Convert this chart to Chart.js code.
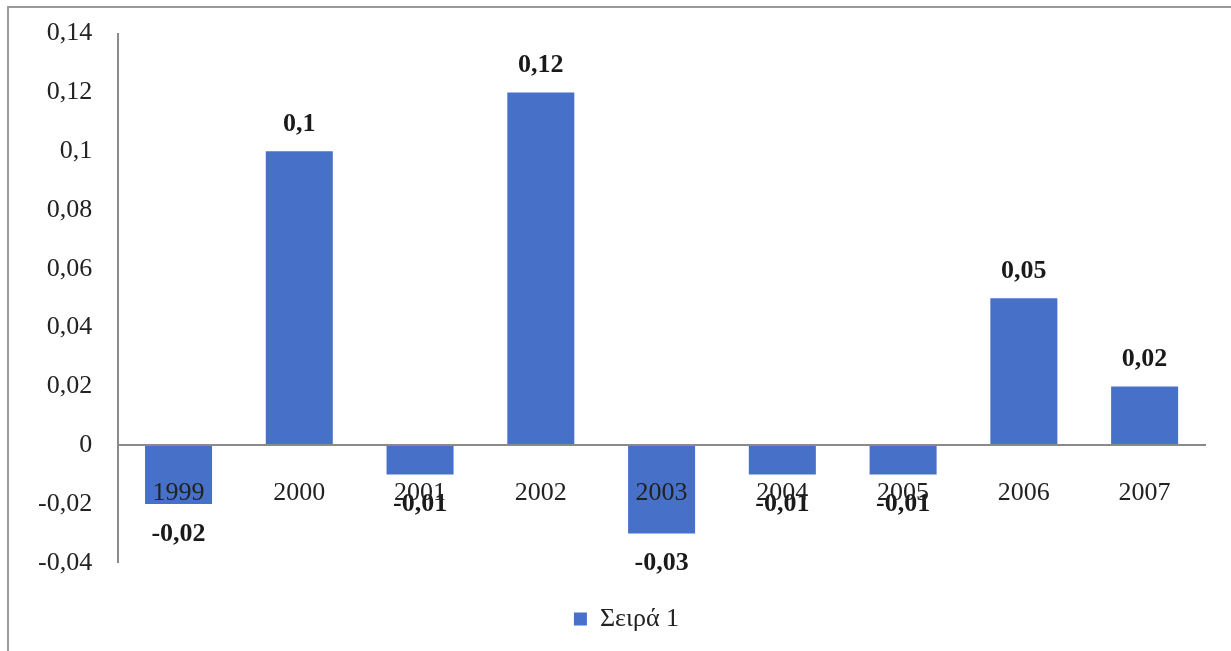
<!DOCTYPE html>
<html lang="el">
  <head>
    <meta charset="UTF-8" />
    <script src="https://cdn.jsdelivr.net/npm/chart.js@4.4.0/dist/chart.umd.min.js"></script>
    <title>Σειρά 1</title>
    <style>
      body {
        margin: 0;
        padding: 0;
        background: white;
        overflow: hidden;
      }

      .wrap {
        position: relative;
        width: 1231px;
        height: 651px;
        overflow: hidden;
      }

      .frame {
        position: absolute;
        left: 7px;
        top: 6px;
        width: 1240px;
        height: 660px;
        border: 2px solid #9a9a9a;
      }

      .chart-box {
        position: absolute;
        left: 0;
        top: 0;
        width: 1231px;
        height: 651px;
      }
    </style>
  </head>
  <body>
    <div class="wrap">
      <div class="frame"></div>
      <div class="chart-box">
        <canvas id="chart"></canvas>
      </div>
    </div>
    <script>
      const years = ['1999', '2000', '2001', '2002', '2003', '2004', '2005', '2006', '2007']
      const series1 = [-0.02, 0.1, -0.01, 0.12, -0.03, -0.01, -0.01, 0.05, 0.02]
      const yTickLabels = ['-0,04', '-0,02', '0', '0,02', '0,04', '0,06', '0,08', '0,1', '0,12', '0,14']

      const barColor = '#4771c8'
      const serif = '"Liberation Serif", "DejaVu Serif", serif'

      const fmt = (v) => String(v).replace('.', ',')

      // values written above / below each bar
      const valueLabels = {
        id: 'valueLabels',
        afterLayout(chart) {
          // legend sits a bit right of centre in the original
          chart.legend.left += 14
          chart.legend.right += 14
        },
        afterDatasetsDraw(chart) {
          const { ctx } = chart
          const meta = chart.getDatasetMeta(0)
          ctx.save()
          ctx.font = 'bold 26px ' + serif
          ctx.fillStyle = '#1a1a1a'
          ctx.textAlign = 'center'
          ctx.textBaseline = 'middle'
          meta.data.forEach((bar, i) => {
            const v = series1[i]
            const y = v >= 0 ? bar.y - 27 : bar.y + 30
            ctx.fillText(fmt(v), bar.x, y)
          })
          ctx.restore()
        },
      }

      new Chart(document.getElementById('chart'), {
        type: 'bar',
        data: {
          labels: years,
          datasets: [
            {
              label: 'Σειρά 1',
              data: series1,
              backgroundColor: barColor,
              borderWidth: 0,
              barPercentage: 0.555,
              categoryPercentage: 1,
            },
          ],
        },
        options: {
          responsive: true,
          maintainAspectRatio: false,
          animation: false,
          layout: {
            padding: { left: 20, right: 26, top: 24, bottom: 9 },
          },
          plugins: {
            legend: {
              position: 'bottom',
              title: {
                display: true,
                text: ' ',
                font: { size: 1 },
                padding: { top: 0, bottom: 32 },
              },
              labels: {
                boxWidth: 13,
                boxHeight: 13,
                padding: 10,
                color: '#222',
                font: { family: serif, size: 26 },
              },
            },
            tooltip: { enabled: false },
          },
          scales: {
            x: {
              position: { y: 0 },
              grid: { display: false },
              border: { display: true, color: '#8a8a8a', width: 2, z: 1 },
              ticks: {
                z: 1,
                padding: 24,
                color: '#222',
                font: { family: serif, size: 26 },
              },
            },
            y: {
              min: -0.04,
              max: 0.14,
              grid: { display: false },
              border: { display: true, color: '#8a8a8a', width: 2 },
              ticks: {
                stepSize: 0.02,
                padding: 18,
                color: '#222',
                font: { family: serif, size: 26 },
                callback: (value, index) => yTickLabels[index],
              },
            },
          },
        },
        plugins: [valueLabels],
      })
    </script>
  </body>
</html>
